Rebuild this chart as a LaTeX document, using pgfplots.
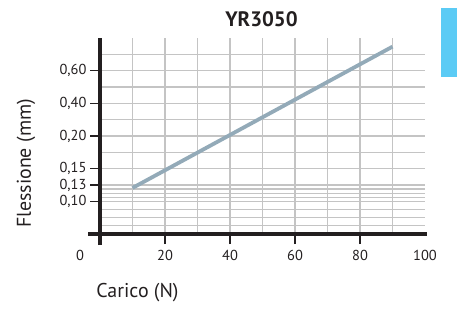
\documentclass[border=0pt]{standalone}
\usepackage{pgfplots}
\pgfplotsset{compat=1.18}
\usepackage{fontspec}
\setmainfont{PT Sans}
\definecolor{txt}{HTML}{231F20}
\definecolor{gridc}{HTML}{C4C4C4}
\definecolor{linec}{HTML}{93AAB8}
\definecolor{tab}{HTML}{5BCBF5}
\begin{document}
\begin{tikzpicture}
\useasboundingbox (0,0) rectangle (457bp,309bp);
\fill[tab] (441bp,232bp) rectangle (457bp,301bp);
\begin{axis}[
 at={(100bp,75bp)}, anchor=south west,
 scale only axis, width=325bp, height=196bp,
 xmin=0, xmax=100, ymin=0, ymax=12,
 axis lines*=left,
 axis line style={line width=3.5bp, color=txt},
 x axis line style={shorten <=-12bp, shorten >=-2bp},
 y axis line style={shorten <=-11bp},
 xtick={20,40,60,80}, minor xtick={10,30,50,70,90},
 extra x ticks={100}, extra x tick style={grid=none, tick style={draw=none}},
 ytick={2,3,4,6,8,10}, yticklabels={{0,10},{0,13},{0,15},{0,20},{0,40},{0,60}},
 minor ytick={0.5,1,1.5,2.25,2.5,2.75,5,7,9,11},
 grid=both,
 major grid style={gridc, line width=1.3bp},
 minor grid style={gridc, line width=1.3bp},
 tick style={txt, line width=1.2bp},
 major tick length=10bp, minor tick length=0pt,
 tick align=outside,
 /pgf/number format/assume math mode=true,
 ticklabel style={font=\fontsize{14.5}{16}\selectfont, text=txt},
 x tick label style={yshift=-3bp},
 clip=false,
]
\addplot[linec, line width=3.8bp] coordinates {(10,2.82) (90,11.47)};
\end{axis}
\node[text=txt, font=\fontsize{14.5}{16}\selectfont] at (80bp,54bp) {0};
\node[text=txt, font=\fontsize{20}{22}\selectfont, rotate=90] at (26bp,145.5bp) {Flessione (mm)};
\node[text=txt, font=\fontsize{20}{22}\selectfont] at (137.5bp,16bp) {Carico (N)};
\node[text=txt, font=\bfseries\fontsize{21}{24}\selectfont] at (261.5bp,290bp) {YR3050};
\end{tikzpicture}
\end{document}
